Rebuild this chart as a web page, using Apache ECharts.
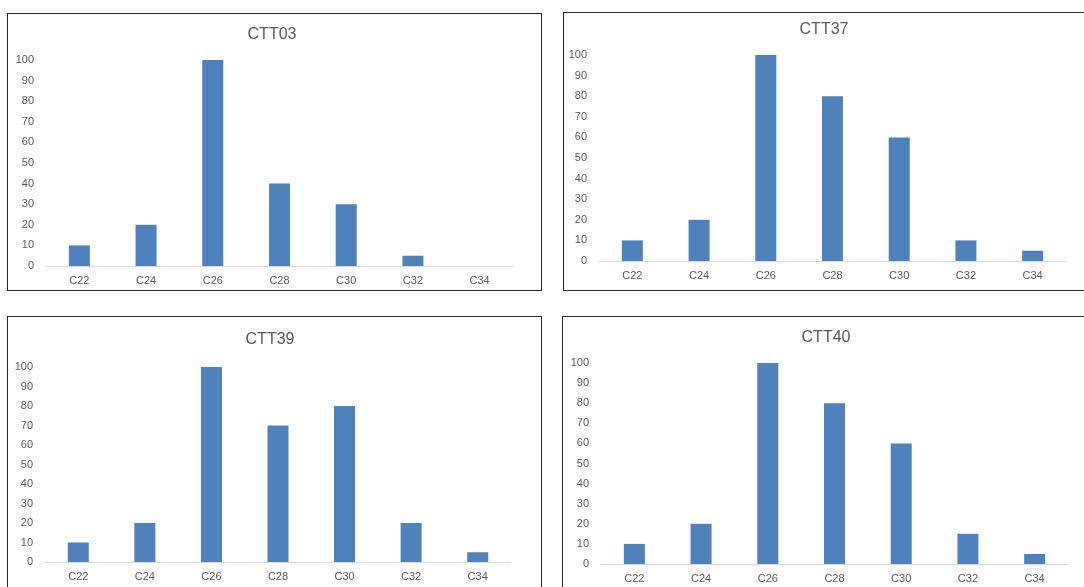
<!DOCTYPE html>
<html>
<head>
<meta charset="utf-8">
<script src="https://cdn.jsdelivr.net/npm/echarts@6/dist/echarts.min.js"></script>
<style>
  html, body { margin: 0; padding: 0; background: #fff; width: 1084px; height: 587px; overflow: hidden; position: relative; }
  .panel { position: absolute; box-sizing: border-box; border: 1px solid #262626; background: #fff; }
  .panel > div { width: 100%; height: 100%; }
</style>
</head>
<body>
<div class="panel" id="p1" style="left:7px;top:13px;width:535px;height:278px;"><div id="c1"></div></div>
<div class="panel" id="p2" style="left:563px;top:12px;width:540px;height:279px;"><div id="c2"></div></div>
<div class="panel" id="p3" style="left:7px;top:316px;width:535px;height:290px;"><div id="c3"></div></div>
<div class="panel" id="p4" style="left:562px;top:316px;width:540px;height:290px;"><div id="c4"></div></div>
<script>
// Chain-length categories shared by every panel
const categories = ['C22', 'C24', 'C26', 'C28', 'C30', 'C32', 'C34'];

// Relative abundance per sample
const titles = ['CTT03', 'CTT37', 'CTT39', 'CTT40'];
const ctt03 = [10, 20, 100, 40, 30, 5, 0];
const ctt37 = [10, 20, 100, 80, 60, 10, 5];
const ctt39 = [10, 20, 100, 70, 80, 20, 5];
const ctt40 = [10, 20, 100, 80, 60, 15, 5];

// Y-axis range
const yMin = 0;
const yMax = 100;
const yStep = 10;

const seriesList = [ctt03, ctt37, ctt39, ctt40];

// Per-panel plot placement inside each bordered box
const layouts = [
  { titleX: 259, titleY: 8,  left: 38, top: 46, width: 467, height: 206 },
  { titleX: 255, titleY: 4,  left: 35, top: 42, width: 467, height: 206 },
  { titleX: 257, titleY: 10, left: 37, top: 50, width: 466, height: 195 },
  { titleX: 258, titleY: 8,  left: 38, top: 46, width: 467, height: 201 }
];

const FONT = 'Liberation Sans, Arial, sans-serif';
const TEXT = '#595959';

seriesList.forEach(function (values, i) {
  const L = layouts[i];
  const chart = echarts.init(document.getElementById('c' + (i + 1)), null, { renderer: 'canvas' });
  chart.setOption({
    animation: false,
    title: {
      text: titles[i],
      left: L.titleX,
      top: L.titleY,
      textAlign: 'center',
      textStyle: { color: TEXT, fontSize: 16, fontWeight: 'normal', fontFamily: FONT }
    },
    grid: { left: L.left, top: L.top, width: L.width, height: L.height, containLabel: false },
    xAxis: {
      type: 'category',
      data: categories,
      axisTick: { show: false },
      axisLine: { lineStyle: { color: '#d9d9d9', width: 1 } },
      axisLabel: { color: TEXT, fontSize: 11, fontFamily: FONT, margin: 9 }
    },
    yAxis: {
      type: 'value',
      min: yMin,
      max: yMax,
      interval: yStep,
      splitLine: { show: false },
      axisLine: { show: false },
      axisTick: { show: false },
      axisLabel: { color: TEXT, fontSize: 11, fontFamily: FONT, margin: 12 }
    },
    series: [{
      type: 'bar',
      data: values,
      barWidth: 21,
      itemStyle: { color: '#4f81bd' }
    }]
  });
});
</script>
</body>
</html>
